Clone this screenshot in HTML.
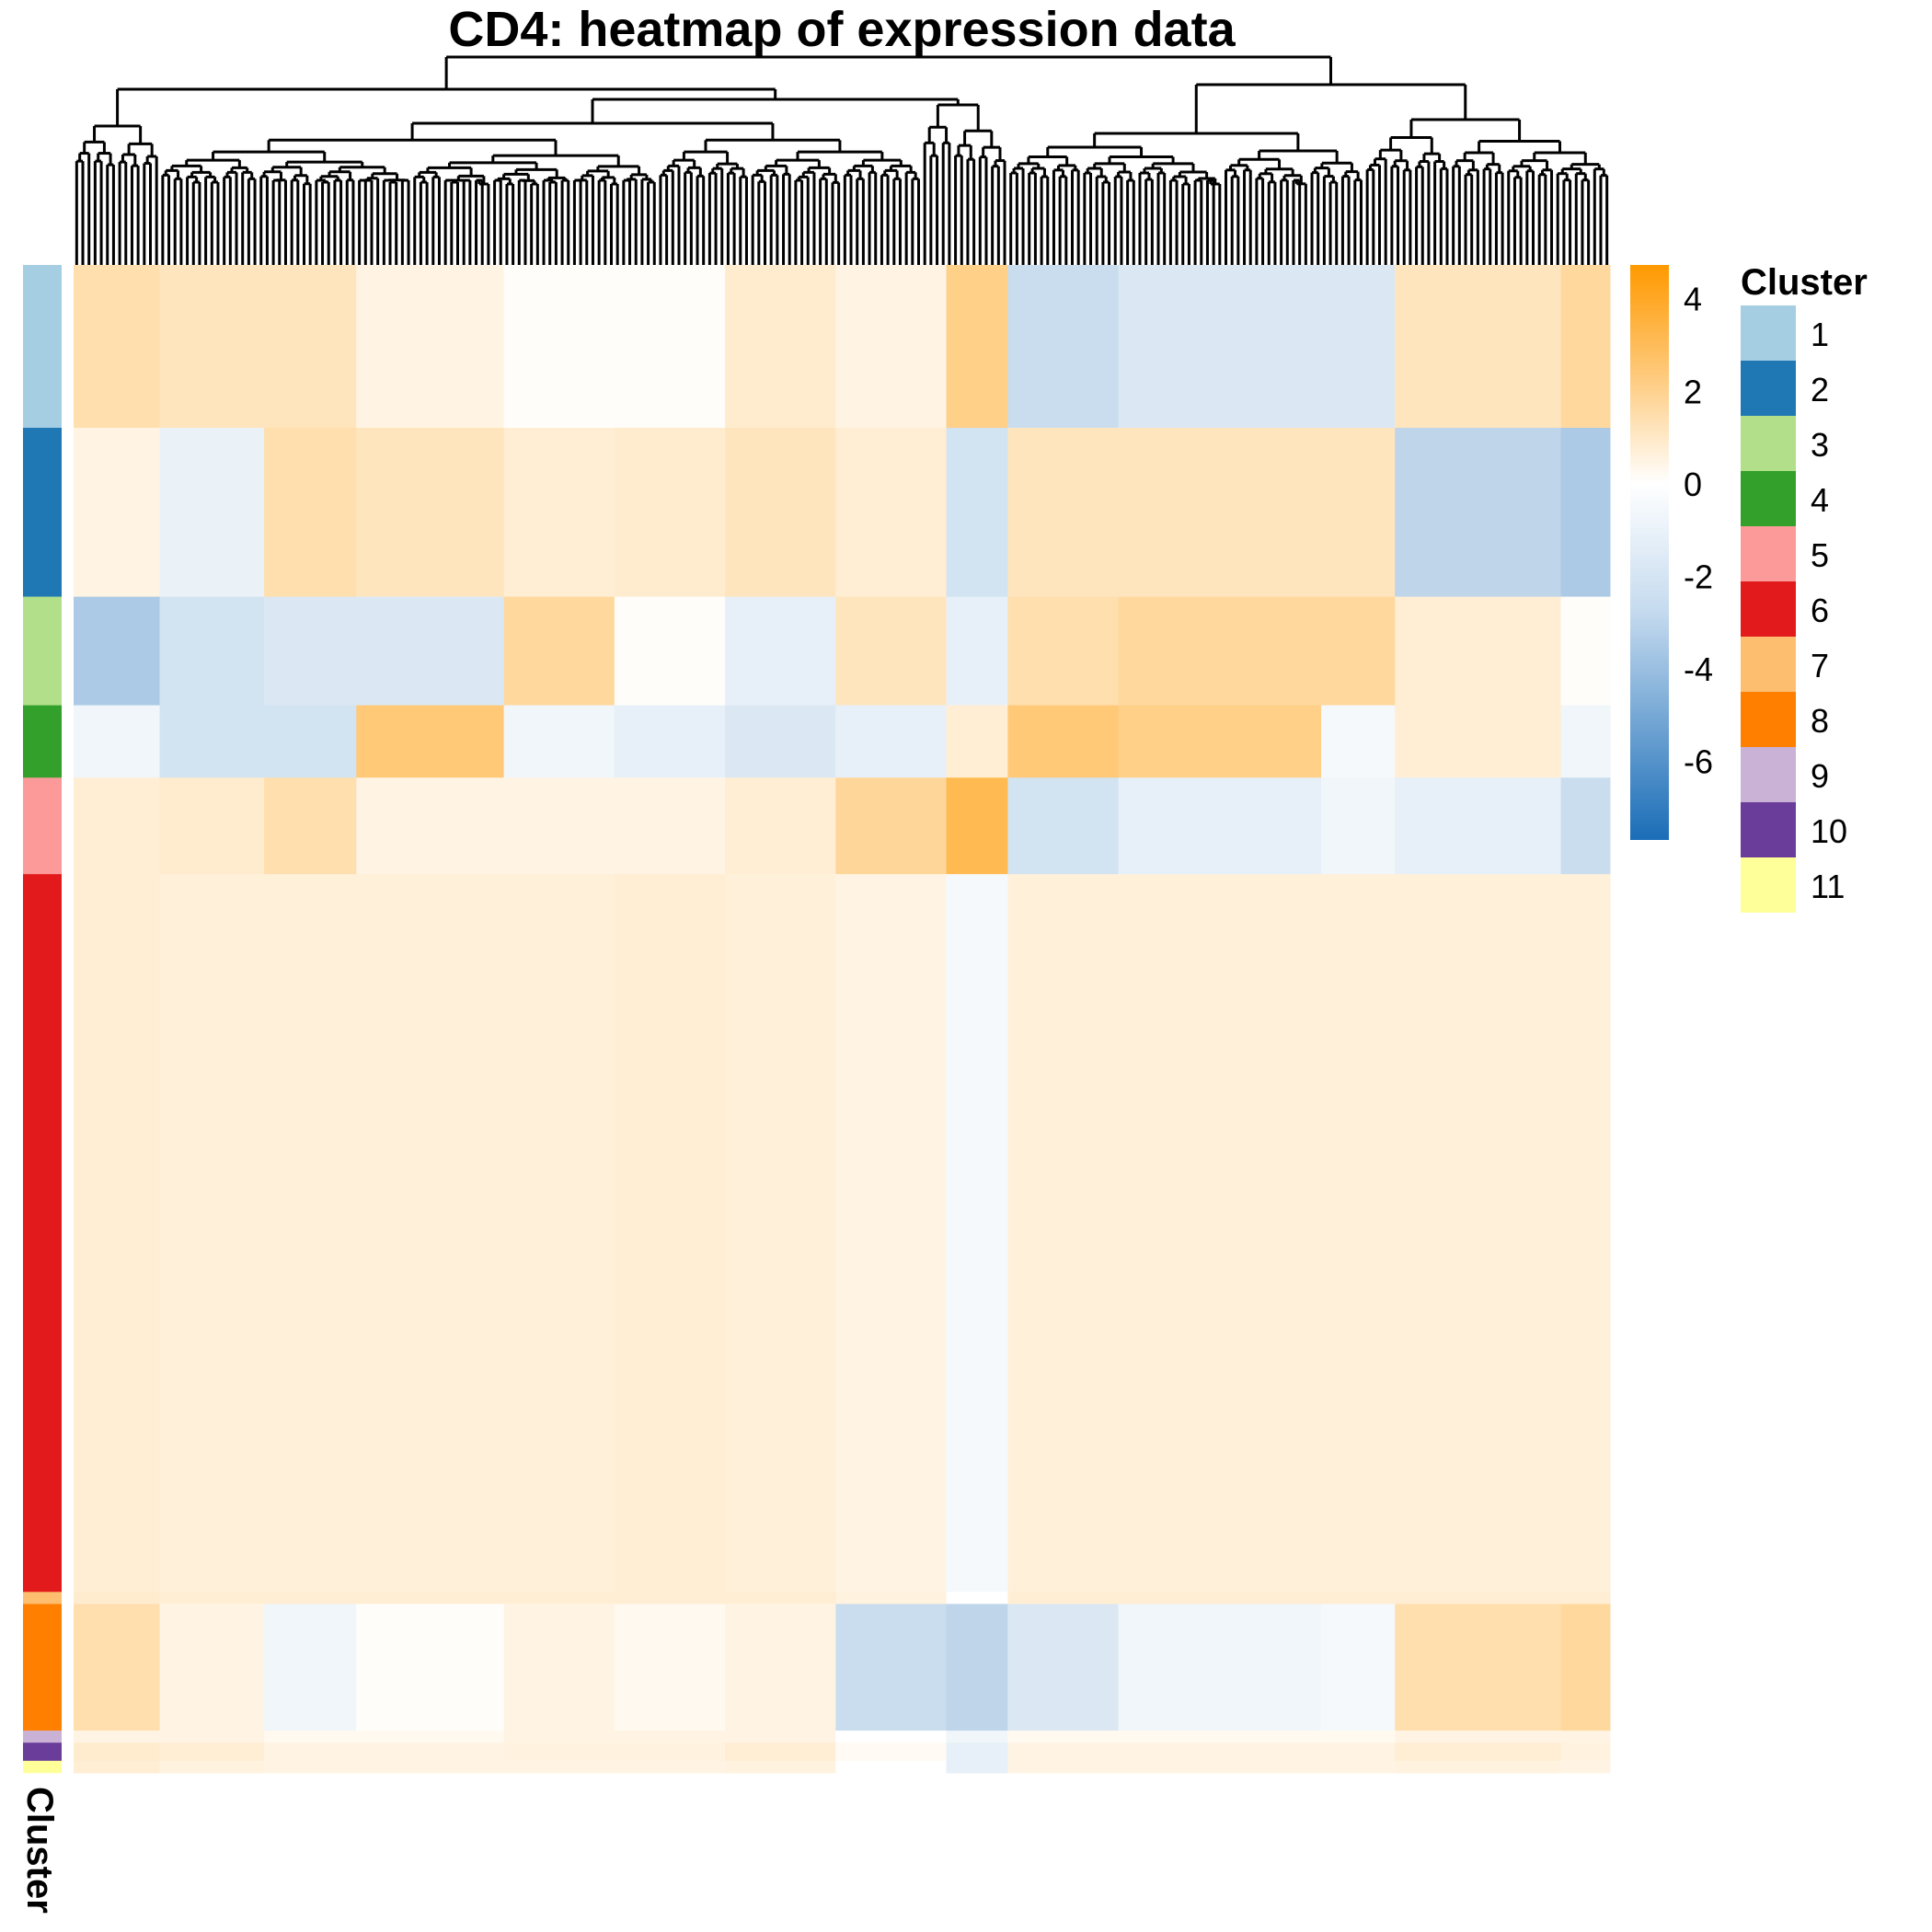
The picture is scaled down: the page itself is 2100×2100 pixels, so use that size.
<!DOCTYPE html>
<html><head><meta charset="utf-8"><style>
html,body{margin:0;padding:0;background:#fff;}
svg{display:block;font-family:"Liberation Sans",sans-serif;}
</style></head><body>
<svg id="chart" width="2100" height="2100" viewBox="0 0 2100 2100">
<text x="915" y="50" text-anchor="middle" font-size="54" font-weight="bold">CD4: heatmap of expression data</text>
<g id="dend" stroke="#000" stroke-width="3" fill="none"></g>
<g id="heat"></g>
<g id="rowbar"></g>
<text transform="translate(30,1942) rotate(90)" font-size="40" font-weight="bold">Cluster</text>
<defs><linearGradient id="cbg" x1="0" y1="0" x2="0" y2="1">
<stop offset="0" stop-color="#FF9900"/><stop offset="0.19" stop-color="#FEC97A"/><stop offset="0.38" stop-color="#FFFFFF"/><stop offset="0.6" stop-color="#C6DBEF"/><stop offset="1" stop-color="#1A6DB7"/></linearGradient></defs>
<rect x="1772" y="288" width="42" height="625" fill="url(#cbg)"/>
<g id="cbticks" font-size="36"></g>
<text x="1892" y="320" font-size="40" font-weight="bold">Cluster</text>
<g id="legend" font-size="36"></g>
</svg>
<script>
const clusterNames = ["1","2","3","4","5","6","7","8","9","10","11"];
const clusterColors = ["#A6CEE3","#1F78B4","#B2DF8A","#33A02C","#FB9A99","#E31A1C","#FDBF6F","#FF7F00","#CAB2D6","#6A3D9A","#FFFF99"];
const clusterRows = [27,28,18,12,16,119,2,21,2,3,2];
const colGroupCols = [14,17,15,24,18,18,18,18,10,18,33,12,27,8];
const meansC1 = [1.5,1.2,1.2,0.5,0.1,0.1,0.9,0.5,2.2,-1.8,-1.2,-1.2,1.2,1.8];
const meansC2 = [0.5,-0.7,1.5,1.2,0.8,0.9,1.2,0.8,-1.5,1.2,1.2,1.2,-2.2,-2.8];
const meansC3 = [-2.8,-1.5,-1.2,-1.2,1.8,0.1,-0.8,1.2,-0.8,1.5,1.8,1.8,0.8,0.1];
const meansC4 = [-0.5,-1.5,-1.5,2.5,-0.5,-0.8,-1.2,-0.8,0.8,2.5,2.2,-0.3,0.8,-0.5];
const meansC5 = [0.8,0.9,1.5,0.5,0.5,0.5,0.8,1.9,3.2,-1.5,-0.8,-0.5,-0.8,-1.8];
const meansC6 = [0.8,0.7,0.7,0.7,0.7,0.8,0.7,0.5,-0.3,0.7,0.7,0.7,0.7,0.7];
const meansC7 = [0.9,0.8,0.8,0.8,0.8,0.8,0.8,0.6,0,0.8,0.8,0.8,0.8,0.8];
const meansC8 = [1.5,0.5,-0.5,0.1,0.5,0.3,0.5,-1.8,-2.2,-1.2,-0.5,-0.3,1.5,1.8];
const meansC9 = [0.5,0.5,0.3,0.3,0.5,0.5,0.5,0,-0.5,0.3,0.3,0.3,0.5,0.5];
const meansC10 = [0.9,0.8,0.5,0.5,0.6,0.6,0.8,0.2,-0.8,0.5,0.5,0.5,0.8,0.6];
const meansC11 = [0.8,0.6,0.5,0.5,0.5,0.5,0.6,0,-0.8,0.5,0.5,0.5,0.6,0.5];
const scaleTicks = [4,2,0,-2,-4,-6];

const means = [meansC1,meansC2,meansC3,meansC4,meansC5,meansC6,meansC7,meansC8,meansC9,meansC10,meansC11];
const NS="http://www.w3.org/2000/svg";
const HX0=80,HX1=1750,HY0=288,HY1=1927;
const totalRows=clusterRows.reduce((a,b)=>a+b,0);
const totalCols=colGroupCols.reduce((a,b)=>a+b,0);
const yRow=r=>HY0+(HY1-HY0)*r/totalRows;
const xCol=c=>HX0+(HX1-HX0)*c/totalCols;
const VMAX=4.73,VMIN=-7.7;
const yVal=v=>288+(VMAX-v)/(VMAX-VMIN)*625;
function mix(a,b,t){return a.map((x,i)=>Math.round(x+(b[i]-x)*t));}
function col(v){
  if(v>=0){const t=Math.min(v/VMAX,1);return "rgb("+mix([255,255,255],[255,153,0],t).join(",")+")";}
  const t=Math.min(-v/(-VMIN),1);return "rgb("+mix([255,255,255],[26,109,183],t).join(",")+")";
}
function mk(tag,attrs,parent){const e=document.createElementNS(NS,tag);for(const k in attrs)e.setAttribute(k,attrs[k]);parent.appendChild(e);return e;}

const heat=document.getElementById('heat');
const rowbar=document.getElementById('rowbar');
let r0=0;
clusterRows.forEach((n,ci)=>{
  let c0=0;
  colGroupCols.forEach((m,gi)=>{
    const x=xCol(c0),y=yRow(r0);
    const e=mk('rect',{x:x,y:y,width:xCol(c0+m)-x+0.5,height:yRow(r0+n)-y+0.5,fill:col(means[ci][gi])},heat);
    
    
    c0+=m;
  });
  const b=mk('rect',{x:25,y:yRow(r0),width:42,height:yRow(r0+n)-yRow(r0)+0.3,fill:clusterColors[ci]},rowbar);
  
  
  r0+=n;
});

const cbt=document.getElementById('cbticks');
scaleTicks.forEach(v=>{
  const t=mk('text',{x:1830,y:yVal(v)+13},cbt);
  t.textContent=(v<0?"-"+(-v):String(v));
  
  
});

const lg=document.getElementById('legend');
clusterNames.forEach((nm,i)=>{
  const r=mk('rect',{x:1892,y:332+60*i,width:60,height:60,fill:clusterColors[i]},lg);
  
  
  const t=mk('text',{x:1968,y:332+60*i+44},lg);
  t.textContent=nm;
  
  
});

const dg=document.getElementById('dend');
const NL=totalCols;
const leafX=i=>HX0+(HX1-HX0)*(i+0.5)/NL;
const ratios=[0.5,0.4,0.6,0.35,0.55,0.45,0.65];
let rc=0;
function line(x1,y1,x2,y2){mk('line',{x1:x1,y1:y1,x2:x2,y2:y2},dg);}
function build(lo,hi,y){
  if(hi-lo===1) return {x:leafX(lo),y:HY0};
  let r=ratios[rc++%ratios.length];
  let mid=lo+Math.max(1,Math.min(hi-lo-1,Math.round((hi-lo)*r)));
  const cy=Math.min(y+Math.max(5,(195-y)*0.3),196);
  const a=build(lo,mid,cy), b=build(mid,hi,cy+((mid-lo)%3)*2);
  return join(a,b,y);
}
function join(a,b,y){
  line(a.x,a.y,a.x,y);line(b.x,b.y,b.x,y);line(a.x,y,b.x,y);
  return {x:(a.x+b.x)/2,y:y};
}
const A=build(0,14,137);
const BL=build(14,138,134);
const BR=build(138,152,114);
const B=join(BL,BR,108);
const L=join(A,B,97);
const RL=build(152,210,145);
const RR=build(210,NL,130);
const R=join(RL,RR,92);
join(L,R,62);
</script>
</body></html>
